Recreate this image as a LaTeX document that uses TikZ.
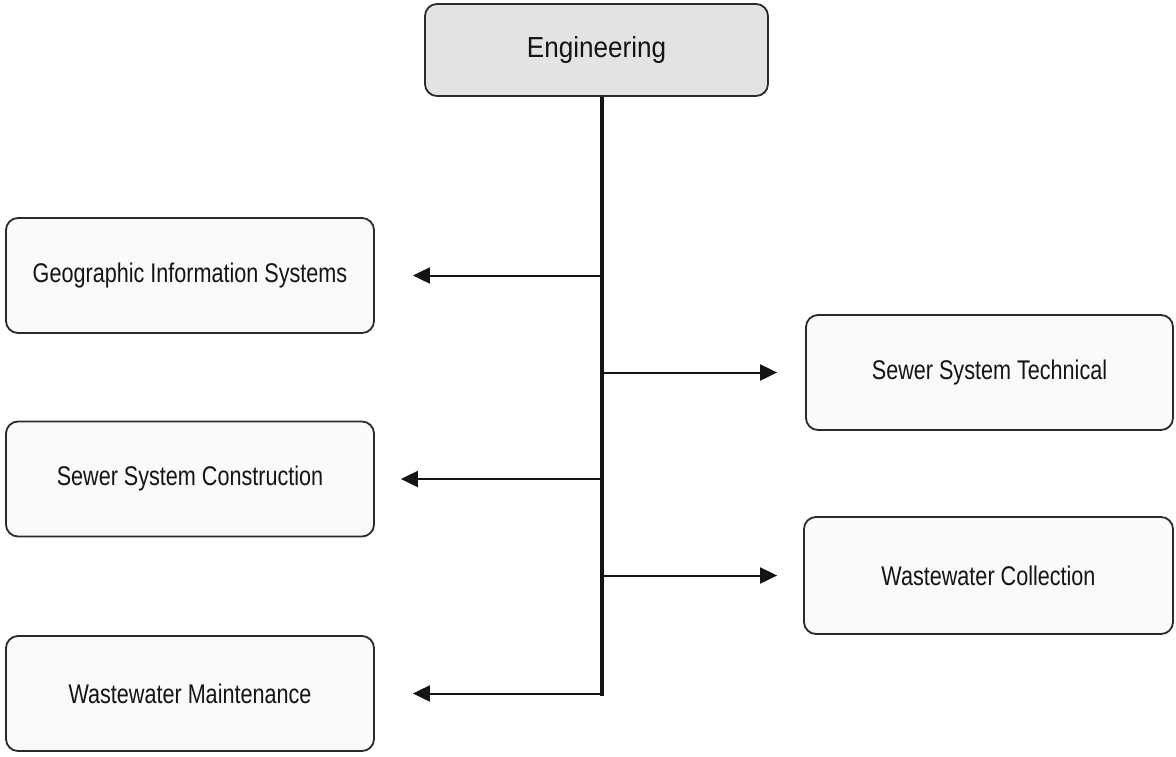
\documentclass[tikz,border=0pt]{standalone}
\usepackage{fontspec}
\setmainfont{Liberation Sans}
\newfontfamily\unitfont[FakeStretch=0.80]{Liberation Sans}
\newfontfamily\headfont[FakeStretch=0.90]{Liberation Sans}
\usetikzlibrary{arrows.meta,calc}
\definecolor{ink}{HTML}{141414}
\definecolor{edge}{HTML}{2A2A2A}
\definecolor{headfill}{HTML}{E3E3E3}
\definecolor{unitfill}{HTML}{FAFAFA}
\tikzset{
  unitbox/.style={draw=edge, line width=1.8pt, rounded corners=12pt, fill=unitfill,
    minimum width=368pt, minimum height=115pt, inner sep=0pt,
    font=\unitfont\fontsize{27}{30}\selectfont, text=ink},
  headbox/.style={unitbox, fill=headfill, minimum width=343pt, minimum height=92pt,
    font=\headfont\fontsize{29}{32}\selectfont},
  trunk/.style={draw=ink, line width=3.4pt},
  branch/.style={draw=ink, line width=2pt, -{Triangle[length=17pt,width=16pt]}},
}
\begin{document}
\begin{tikzpicture}[x=1pt,y=-1pt]
  \useasboundingbox (0,0) rectangle (1176,756);

  % top unit
  \node[headbox] (eng) at (596.5,50) {Engineering};

  % divisions on the left
  \node[unitbox] (gis) at (190,275.5) {Geographic Information Systems};
  \node[unitbox] (ssc) at (190,479) {Sewer System Construction};
  \node[unitbox] (wm)  at (190,693.5) {Wastewater Maintenance};

  % divisions on the right
  \node[unitbox, minimum width=367pt] (sst) at (989.5,372.5) {Sewer System Technical};
  \node[unitbox, minimum width=369pt, minimum height=117pt] (wc) at (988.5,575.5) {Wastewater Collection};

  % vertical trunk
  \coordinate (tb) at (602,694);
  \draw[trunk] (eng.south -| tb) -- ($(tb)+(0,1.7)$);

  % branches off the trunk
  \draw[branch] (gis.east -| tb) -- ($(gis.east)+(38,0)$);
  \draw[branch] (ssc.east -| tb) -- ($(ssc.east)+(26,0)$);
  \draw[branch] (wm.east -| tb)  -- ($(wm.east)+(38,0)$);
  \draw[branch] (sst.west -| tb) -- ($(sst.west)+(-28,0)$);
  \draw[branch] (wc.west -| tb)  -- ($(wc.west)+(-26,0)$);
\end{tikzpicture}
\end{document}
